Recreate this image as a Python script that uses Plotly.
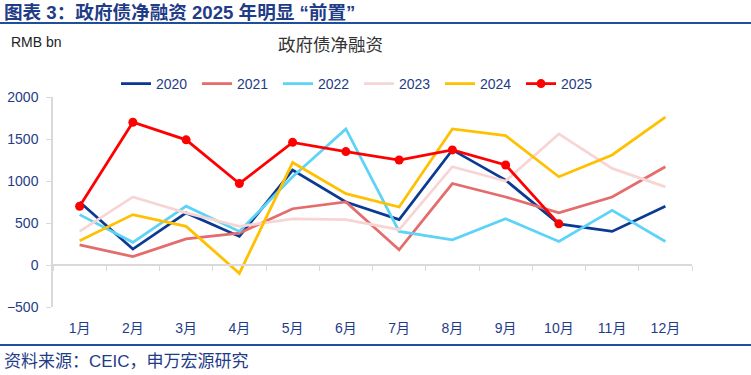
import plotly.graph_objects as go

months = ["1月", "2月", "3月", "4月", "5月", "6月", "7月", "8月", "9月", "10月", "11月", "12月"]
y2020 = [750, 190, 620, 340, 1130, 750, 540, 1370, 1010, 490, 400, 700]
y2021 = [240, 100, 310, 380, 670, 750, 180, 970, 810, 620, 810, 1170]
y2022 = [600, 270, 700, 400, 1050, 1620, 400, 300, 550, 280, 650, 280]
y2023 = [400, 810, 620, 460, 550, 540, 420, 1170, 1000, 1560, 1150, 930]
y2024 = [290, 600, 460, -100, 1220, 850, 690, 1620, 1540, 1050, 1310, 1760]
y2025 = [700, 1700, 1490, 970, 1460, 1350, 1250, 1370, 1190, 490]

series = [
    ("2020", y2020, "#0B3A93"),
    ("2021", y2021, "#E46C6C"),
    ("2022", y2022, "#5CD3F7"),
    ("2023", y2023, "#F8D5D5"),
    ("2024", y2024, "#FFC000"),
]

NAVY = "#1F3C88"
FONT = "Liberation Sans, Arial, Noto Sans CJK SC"
W, H = 751, 375
L, R, T, B = 53, 59, 97, 68
pw, ph = W - L - R, H - T - B

def px(x):
    return (x - L) / pw

def py(y):
    return (H - B - y) / ph

fig = go.Figure()
for name, vals, col in series:
    fig.add_trace(go.Scatter(x=months[:len(vals)], y=vals, name=name, mode="lines",
                             line=dict(color=col, width=2.75)))
fig.add_trace(go.Scatter(x=months[:len(y2025)], y=y2025, name="2025", mode="lines+markers",
                         line=dict(color="#FF0000", width=2.75),
                         marker=dict(color="#FF0000", size=9)))

fig.update_layout(
    width=W, height=H, autosize=False,
    margin=dict(l=L, r=R, t=T, b=B, autoexpand=False),
    paper_bgcolor="white", plot_bgcolor="white",
    font=dict(family=FONT, color=NAVY, size=14),
    showlegend=True,
    legend=dict(orientation="h", x=px(116), xanchor="left", y=py(84), yanchor="middle",
                font=dict(size=14, color=NAVY), itemwidth=30, tracegroupgap=0,
                entrywidth=36, entrywidthmode="pixels",
                bgcolor="rgba(0,0,0,0)"),
    xaxis=dict(type="category", categoryarray=months, range=[-0.5, 11.5],
               anchor="free", position=500 / 2500, automargin=False,
               showline=True, linecolor="#D9D9D9", linewidth=1.5,
               ticks="outside", tickson="boundaries", ticklen=5, tickcolor="#D9D9D9",
               ticklabelstandoff=50, showgrid=False, zeroline=False,
               tickfont=dict(size=14, color=NAVY)),
    yaxis=dict(range=[-500, 2000], dtick=500, tick0=0, showgrid=False, zeroline=False,
               automargin=False,
               showline=True, linecolor="#D9D9D9", linewidth=1.5,
               ticks="outside", ticklen=5, tickcolor="#D9D9D9", ticklabelstandoff=5,
               tickfont=dict(size=14, color=NAVY)),
)

title = "<b>图表 3：政府债净融资 2025 年明显 “前置”</b>"
ann = [
    dict(text=title, x=px(2), y=py(12), xanchor="left", yanchor="middle",
         font=dict(size=18.6, color=NAVY)),
    dict(text="RMB bn", x=px(9), y=py(42), xanchor="left", yanchor="middle",
         font=dict(size=14, color="#222222")),
    dict(text="政府债净融资", x=px(330), y=py(45), xanchor="center", yanchor="middle",
         font=dict(size=17.5, color="#333333")),
    dict(text="资料来源：CEIC，申万宏源研究", x=px(2), y=py(361), xanchor="left", yanchor="middle",
         font=dict(size=17, color=NAVY)),
]
for a in ann:
    fig.add_annotation(xref="paper", yref="paper", showarrow=False, **a)

for yy in (23, 345):
    fig.add_shape(type="line", xref="paper", yref="paper", x0=px(0), x1=px(W), y0=py(yy), y1=py(yy),
                  line=dict(color="#1F4E9A", width=2))

fig.write_html("out.html", config={"displayModeBar": False},
               post_script="document.body.style.margin='0';document.body.style.padding='0';")
